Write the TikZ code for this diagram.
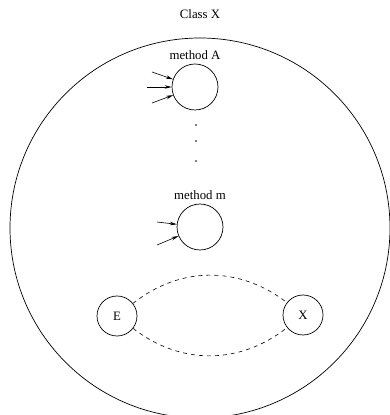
\documentclass[tikz,border=0pt]{standalone}
\usepackage{fontspec}
\setmainfont{Liberation Serif}
\usetikzlibrary{arrows.meta, positioning}

\begin{document}
\begin{tikzpicture}[x=1pt, y=1pt, >={Stealth[length=7pt, width=3.5pt]},
    classbox/.style={circle, draw, line width=0.7pt, minimum size=380pt, inner sep=0pt},
    method/.style={circle, draw, line width=0.7pt, minimum size=46pt, inner sep=0pt},
    state/.style={circle, draw, line width=0.7pt, minimum size=40pt, inner sep=0pt},
    dotmark/.style={circle, fill, minimum size=1.8pt, inner sep=0pt},
    call/.style={->, line width=0.6pt},
    link/.style={line width=0.6pt, dash pattern=on 4pt off 4pt},
    font=\fontsize{12.8}{15}\selectfont]
    \clip (0,0) rectangle (390,415);
    % Class boundary and its name
    \node[classbox] (cls) at (200,187) {};
    \node (title) at (200,401) {Class X};
    % Methods
    \node[method] (mA) at (195,328) {};
    \node[above=0pt of mA] (labA) {method A};
    \node[method] (mM) at (200,188) {};
    \node[above=0pt of mM] (labM) {method m};
    % Dots between the methods
    \foreach \y [count=\i] in {290,274,254} {
        \node[dotmark] (dot\i) at (196,\y) {};
    }
    % Incoming calls
    \coordinate (inA1) at (152,343);
    \coordinate (inA2) at (147,328);
    \coordinate (inA3) at (152,312);
    \coordinate (inM1) at (157,193);
    \coordinate (inM2) at (157,170);
    \foreach \c in {inA1, inA2, inA3} {
        \draw[call] (\c) -- (mA);
    }
    \foreach \c in {inM1, inM2} {
        \draw[call] (\c) -- (mM);
    }
    % Entry and exit
    \node[state] (E) at (117,99) {E};
    \node[state] (X) at (303,100) {X};
    \draw[link] (E) to[bend left=38] (X);
    \draw[link] (E) to[bend right=38] (X);
\end{tikzpicture}
\end{document}
